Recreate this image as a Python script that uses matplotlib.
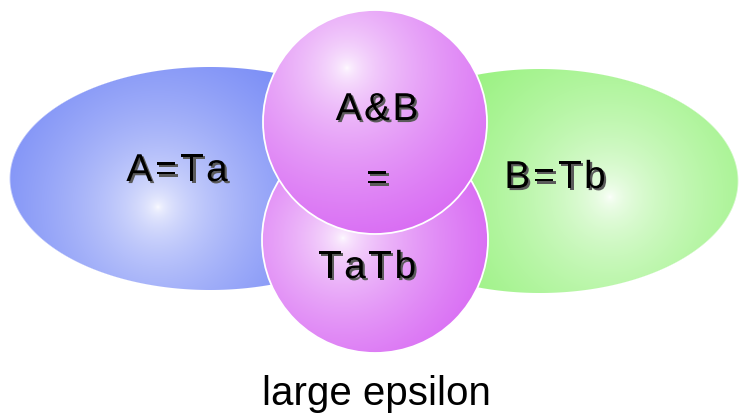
import numpy as np
import matplotlib
matplotlib.use('Agg')
import matplotlib.pyplot as plt
from matplotlib.patches import Circle
from matplotlib.font_manager import FontProperties
import matplotlib.patheffects as pe

plt.rcParams['font.family'] = ['Liberation Sans', 'DejaVu Sans']

# ラベル
set_labels = ['A=Ta', 'B=Tb']
inter_labels = ['A&B', '=', 'TaTb']
caption = 'large epsilon'

W, H = 740, 417

fig = plt.figure(figsize=(7.4, 4.17), dpi=100)
ax = fig.add_axes([0, 0, 1, 1])
ax.set_xlim(0, W)
ax.set_ylim(H, 0)
ax.axis('off')

yy, xx = np.mgrid[0:H, 0:W] + 0.5


def blob(cx, cy, a, b, hx, hy, edge, gamma=0.55, zorder=1):
    # 放射グラデーションの楕円 (ハイライトから外接矩形の一番遠い角まで)
    edge = np.array(matplotlib.colors.to_rgb(edge))
    R = max(np.hypot(px - hx, py - hy) for px in (cx - a, cx + a) for py in (cy - b, cy + b))
    t = np.clip(np.hypot(xx - hx, yy - hy) / R, 0, 1) ** gamma
    rgb = (1 - t)[..., None] * np.ones(3) + t[..., None] * edge
    r = np.sqrt(((xx - cx) / a) ** 2 + ((yy - cy) / b) ** 2)
    d = (r - 1) * min(a, b)
    alpha = np.clip(0.5 - d, 0, 1)
    img = np.dstack([rgb, alpha])
    ax.imshow(img, extent=(0, W, H, 0), interpolation='bilinear', zorder=zorder)


blob(210, 178.5, 200, 111.5, 158, 207, '#5870f4', gamma=0.5, zorder=1)
blob(540, 181, 198, 112, 610, 197, '#7cee5c', zorder=1)
blob(375, 240, 113, 113, 343, 238, '#d45af2', zorder=2)
ax.add_patch(Circle((375, 240), 113, fc='none', ec='white', lw=1.3, zorder=2.5))
blob(375, 122, 112, 112, 347, 68, '#d45af2', zorder=3)
ax.add_patch(Circle((375, 122), 112, fc='none', ec='white', lw=1.3, zorder=3.5))

renderer = fig.canvas.get_renderer()
prop = FontProperties(family='Liberation Sans', size=28)
wxx = renderer.get_text_width_height_descent('xx', prop, ismath=False)[0]
shadow = [pe.withSimplePatchShadow(offset=(1.5, -1.5), shadow_rgbFace='#5a5a5a', alpha=1.0)]


def adv(ch):
    return renderer.get_text_width_height_descent('x' + ch + 'x', prop, ismath=False)[0] - wxx


def label(x, y, s, spacing=2.5):
    # 字間を少し空けて1文字ずつ描く (影付き)
    ws = [adv(c) for c in s]
    total = sum(ws) + spacing * (len(s) - 1)
    x0 = x - total / 2
    for c, w in zip(s, ws):
        ax.text(x0, y, c, fontproperties=prop, color='black', ha='left', va='baseline',
                zorder=6, path_effects=shadow)
        x0 += w + spacing


label(177, 181, set_labels[0])
label(555, 188, set_labels[1])
label(377, 120, inter_labels[0])
label(377, 190, inter_labels[1])
label(367, 278, inter_labels[2])

ax.text(376, 405, caption, fontsize=29, color='black', ha='center', va='baseline', zorder=6)

fig.savefig('out.png', dpi=100)
